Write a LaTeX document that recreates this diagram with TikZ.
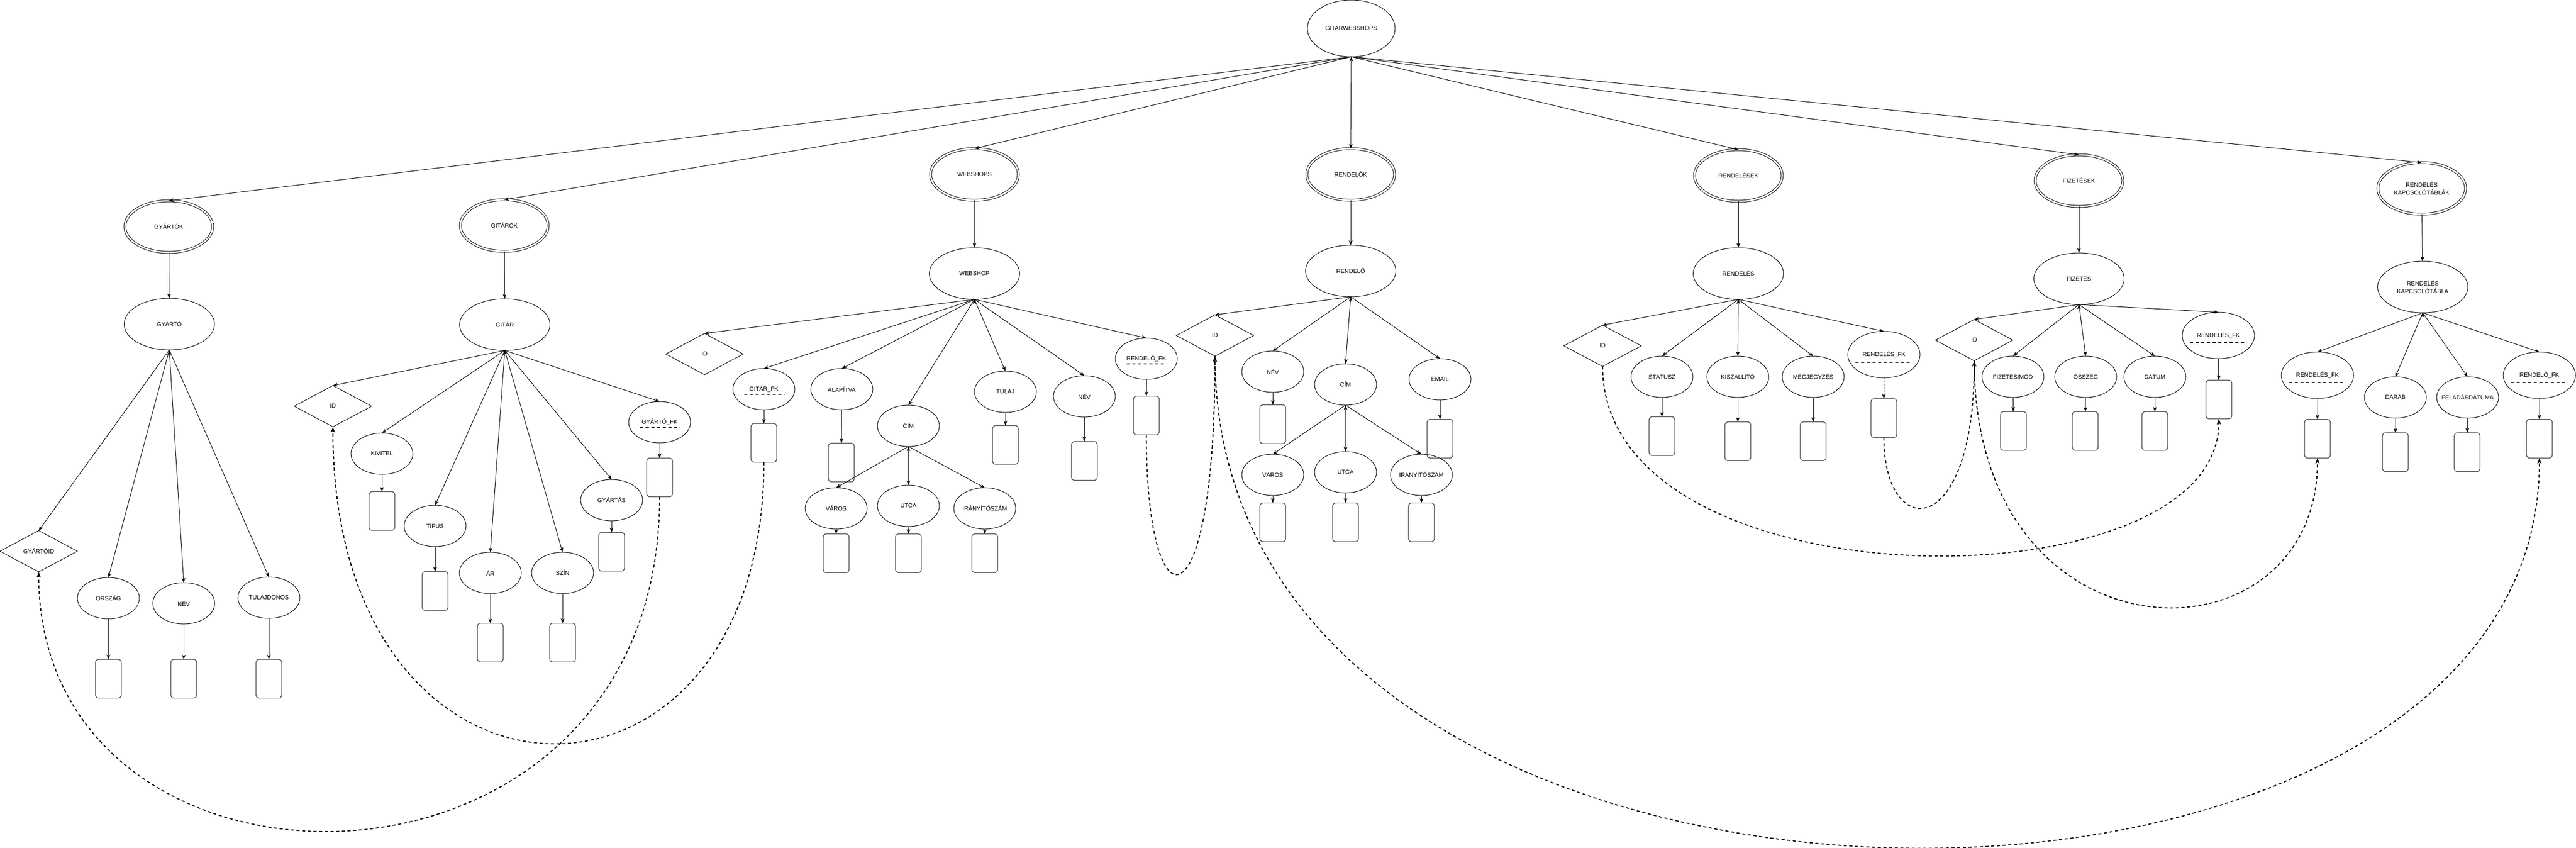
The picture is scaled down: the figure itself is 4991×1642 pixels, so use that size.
\documentclass[tikz,border=0pt]{standalone}
\usepackage{fontspec}
\setmainfont{Liberation Sans}
\usetikzlibrary{
  shapes.geometric,
  arrows.meta,
}

\begin{document}
\begin{tikzpicture}[x=1pt,y=-1pt,line width=1pt,
  every node/.style={font=\fontsize{11.5}{15}\selectfont,inner sep=0pt,outer sep=0pt},
  tbl/.style={ellipse,draw,double,double distance=3pt,minimum width=170pt,minimum height=100pt,align=center},
  ent/.style={ellipse,draw,minimum width=175pt,minimum height=100pt,align=center},
  attr/.style={ellipse,draw,minimum width=120pt,minimum height=80pt,
    execute at begin node=\hbox to 0pt\bgroup\hss,execute at end node=\hss\egroup},
  fk/.style={attr,minimum width=140pt,minimum height=90pt},
  pk/.style={diamond,draw,minimum width=150pt,minimum height=80pt,
    execute at begin node=\hbox to 0pt\bgroup\hss,execute at end node=\hss\egroup},
  box/.style={draw=black!75,line width=1.3pt,rounded corners=6pt,minimum width=50pt,minimum height=75pt},
  arr/.style={-{Stealth[length=9pt,width=7pt,inset=2.5pt]}},
  fkarr/.style={line width=2pt,dash pattern=on 6pt off 5pt,-{Stealth[length=11pt,width=8pt,inset=3pt]}},
  fkline/.style={line width=2pt,dash pattern=on 6pt off 5pt},
]
\path[use as bounding box,fill=white] (0,0) rectangle (4991,1642);

% root and tables
\node[ellipse,draw,minimum width=170pt,minimum height=110pt] (gws) at (2618,55) {GITARWEBSHOPS};
\node[tbl] (gyartok) at (327,439) {GYÁRTÓK};
\node[tbl] (gitarok) at (977,437) {GITÁROK};
\node[tbl] (webshops) at (1888,338) {WEBSHOPS};
\node[tbl] (rendelok) at (2617,338) {RENDELŐK};
\node[tbl] (rendelesek) at (3368,340) {RENDELÉSEK};
\node[tbl] (fizetesek) at (4028,350) {FIZETÉSEK};
\node[tbl] (kapcsok) at (4692,365) {RENDELÉS\\KAPCSOLÓTÁBLÁK};

% entities
\node[ent] (gyarto) at (328,628) {GYÁRTÓ};
\node[ent] (gitar) at (978,629) {GITÁR};
\node[ent] (webshop) at (1888,530) {WEBSHOP};
\node[ent] (rendelo) at (2617,525) {RENDELŐ};
\node[ent] (rendeles) at (3368,530) {RENDELÉS};
\node[ent] (fizetes) at (4028,540) {FIZETÉS};
\node[ent] (kapcs) at (4694,556) {RENDELÉS\\KAPCSOLÓTÁBLA};

% gyarto
\node[pk] (gyid) at (75,1068) {GYÁRTÓID};
\node[attr] (orszag) at (210,1159) {ORSZÁG};
\node[attr] (gynev) at (356,1169) {NÉV};
\node[attr] (tulajdonos) at (521,1158) {TULAJDONOS};
\node[box] (orszagb) at (210,1315) {};
\node[box] (gynevb) at (356,1315) {};
\node[box] (tulajdonosb) at (521,1315) {};

% gitar
\node[pk] (gtid) at (645,787) {ID};
\node[attr] (kivitel) at (740,879) {KIVITEL};
\node[attr] (tipus) at (843,1019) {TÍPUS};
\node[attr] (ar) at (950,1110) {ÁR};
\node[attr] (szin) at (1090,1110) {SZÍN};
\node[attr] (gyartas) at (1185,969) {GYÁRTÁS};
\node[attr] (gyfk) at (1278,818) {GYÁRTÓ\_FK};
\node[box] (kivitelb) at (740,990) {};
\node[box] (tipusb) at (843,1145) {};
\node[box] (arb) at (950,1245) {};
\node[box] (szinb) at (1090,1245) {};
\node[box] (gyartasb) at (1185,1069) {};
\node[box] (gyfkb) at (1278,925) {};

% webshop
\node[pk] (wsid) at (1365,686) {ID};
\node[attr] (gtfk) at (1480,754) {GITÁR\_FK};
\node[attr] (alapitva) at (1631,754) {ALAPÍTVA};
\node[attr] (wscim) at (1760,825) {CÍM};
\node[attr] (wsvaros) at (1620,985) {VÁROS};
\node[attr] (wsutca) at (1760,980) {UTCA};
\node[attr] (wsirsz) at (1908,985) {IRÁNYÍTÓSZÁM};
\node[attr] (tulaj) at (1948,759) {TULAJ};
\node[attr] (wsnev) at (2101,768) {NÉV};
\node[attr] (rofk) at (2221,695) {RENDELŐ\_FK};
\node[box] (gtfkb) at (1480,858) {};
\node[box] (alapitvab) at (1630,896) {};
\node[box] (wsvarosb) at (1620,1072) {};
\node[box] (wsutcab) at (1760,1072) {};
\node[box] (wsirszb) at (1908,1072) {};
\node[box] (tulajb) at (1948,862) {};
\node[box] (wsnevb) at (2101,893) {};
\node[box] (rofkb) at (2221,805) {};

% rendelo
\node[pk] (roid) at (2354,650) {ID};
\node[attr] (ronev) at (2466,720) {NÉV};
\node[attr] (rocim) at (2607,745) {CÍM};
\node[attr] (rovaros) at (2466,920) {VÁROS};
\node[attr] (routca) at (2607,915) {UTCA};
\node[attr] (roirsz) at (2754,920) {IRÁNYÍTÓSZÁM};
\node[attr] (email) at (2790,735) {EMAIL};
\node[box] (ronevb) at (2466,822) {};
\node[box] (rovarosb) at (2466,1012) {};
\node[box] (routcab) at (2607,1012) {};
\node[box] (roirszb) at (2754,1012) {};
\node[box] (emailb) at (2790,850) {};

% rendeles
\node[pk] (reid) at (3105,670) {ID};
\node[attr] (statusz) at (3220,730) {STÁTUSZ};
\node[attr] (kiszallito) at (3367,730) {KISZÁLLÍTÓ};
\node[attr] (megjegyzes) at (3513,730) {MEGJEGYZÉS};
\node[fk] (refk) at (3650,687) {RENDELÉS\_FK};
\node[box] (statuszb) at (3220,845) {};
\node[box] (kiszallitob) at (3367,855) {};
\node[box] (megjegyzesb) at (3513,855) {};
\node[box] (refkb) at (3650,810) {};

% fizetes
\node[pk] (fzid) at (3825,659) {ID};
\node[attr] (fizmod) at (3900,730) {FIZETÉSIMÓD};
\node[attr] (osszeg) at (4041,730) {ÖSSZEG};
\node[attr] (datum) at (4175,730) {DÁTUM};
\node[fk] (fzrefk) at (4298,650) {RENDELÉS\_FK};
\node[box] (fizmodb) at (3901,835) {};
\node[box] (osszegb) at (4040,835) {};
\node[box] (datumb) at (4175,835) {};
\node[box] (fzrefkb) at (4299,774) {};

% kapcsolotabla
\node[fk] (krefk) at (4490,727) {RENDELÉS\_FK};
\node[attr] (darab) at (4641,770) {DARAB};
\node[attr] (feladas) at (4781,770) {FELADÁSDÁTUMA};
\node[fk] (krofk) at (4920,727) {RENDELŐ\_FK};
\node[box] (krefkb) at (4490,850) {};
\node[box] (darabb) at (4641,876) {};
\node[box] (feladasb) at (4780,876) {};
\node[box] (krofkb) at (4920,850) {};

% dashed underlines of the foreign keys
\draw[fkline] ([shift={(-38,10)}]gyfk.center) -- ([shift={(40,10)}]gyfk.center);
\draw[fkline] ([shift={(-38,10)}]gtfk.center) -- ([shift={(40,10)}]gtfk.center);
\draw[fkline] ([shift={(-38,10)}]rofk.center) -- ([shift={(40,10)}]rofk.center);
\draw[fkline] ([shift={(-55,15)}]refk.center) -- ([shift={(55,15)}]refk.center);
\draw[fkline] ([shift={(-55,14)}]fzrefk.center) -- ([shift={(55,14)}]fzrefk.center);
\draw[fkline] ([shift={(-55,14)}]krefk.center) -- ([shift={(56,14)}]krefk.center);
\draw[fkline] ([shift={(-55,14)}]krofk.center) -- ([shift={(56,14)}]krofk.center);

% tree
\draw[arr] (gws.south) edge (gyartok.north) edge (gitarok.north) edge (webshops.north)
  edge (rendelok.north) edge (rendelesek.north) edge (fizetesek.north) edge (kapcsok.north);
\draw[arr] (gyartok) edge (gyarto) (gitarok) edge (gitar) (webshops) edge (webshop)
  (rendelok) edge (rendelo) (rendelesek) edge (rendeles) (fizetesek) edge (fizetes) (kapcsok) edge (kapcs);
\draw[arr] (gyarto.south) edge (gyid.north) edge (orszag.north) edge (gynev.north) edge (tulajdonos.north);
\draw[arr] (gitar.south) edge (gtid.north) edge (kivitel.north) edge (tipus.north) edge (ar.north)
  edge (szin.north) edge (gyartas.north) edge (gyfk.north);
\draw[arr] (webshop.south) edge (wsid.north) edge (gtfk.north) edge (alapitva.north) edge (wscim.north)
  edge (tulaj.north) edge (wsnev.north) edge (rofk.north);
\draw[arr] (wscim.south) edge (wsvaros.north) edge (wsutca.north) edge (wsirsz.north);
\draw[arr] (rendelo.south) edge (roid.north) edge (ronev.north) edge (rocim.north) edge (email.north);
\draw[arr] (rocim.south) edge (rovaros.north) edge (routca.north) edge (roirsz.north);
\draw[arr] (rendeles.south) edge (reid.north) edge (statusz.north) edge (kiszallito.north)
  edge (megjegyzes.north) edge (refk.north);
\draw[arr] (fizetes.south) edge (fzid.north) edge (fizmod.north) edge (osszeg.north)
  edge (datum.north) edge (fzrefk.north);
\draw[arr] (kapcs.south) edge (krefk.north) edge (darab.north) edge (feladas.north) edge (krofk.north);

% attributes to their boxes
\draw[arr] (orszag) edge (orszagb) (gynev) edge (gynevb) (tulajdonos) edge (tulajdonosb)
  (kivitel) edge (kivitelb) (tipus) edge (tipusb) (ar) edge (arb) (szin) edge (szinb)
  (gyartas) edge (gyartasb) (gyfk) edge (gyfkb)
  (gtfk) edge (gtfkb) (alapitva) edge (alapitvab) (wsvaros) edge (wsvarosb) (wsutca) edge (wsutcab)
  (wsirsz) edge (wsirszb) (tulaj) edge (tulajb) (wsnev) edge (wsnevb) (rofk) edge (rofkb)
  (ronev) edge (ronevb) (rovaros) edge (rovarosb) (routca) edge (routcab) (roirsz) edge (roirszb)
  (email) edge (emailb)
  (statusz) edge (statuszb) (kiszallito) edge (kiszallitob) (megjegyzes) edge (megjegyzesb)
  (fizmod) edge (fizmodb) (osszeg) edge (osszegb) (datum) edge (datumb) (fzrefk) edge (fzrefkb)
  (krefk) edge (krefkb) (darab) edge (darabb) (feladas) edge (feladasb) (krofk) edge (krofkb);
\draw[arr,dashed] (refk) -- (refkb);

% key references
\draw[fkarr] (gyfkb.south) .. controls (1278,1800) and (75,1800) .. (gyid.south);
\draw[fkarr] (gtfkb.south) .. controls (1480,1633) and (645,1633) .. (gtid.south);
\draw[fkarr] (rofkb.south) .. controls (2221,1225) and (2354,1225) .. (roid.south);
\draw[fkarr] (roid.south) .. controls (2354,1925) and (4920,1925) .. (krofkb.south);
\draw[fkarr] (reid.south) .. controls (3105,1180) and (4299,1180) .. (fzrefkb.south);
\draw[fkarr] (refkb.south) .. controls (3650,1050) and (3825,1050) .. (fzid.south);
\draw[fkarr] (fzid.south) .. controls (3825,1300) and (4490,1300) .. (krefkb.south);
\end{tikzpicture}
\end{document}
